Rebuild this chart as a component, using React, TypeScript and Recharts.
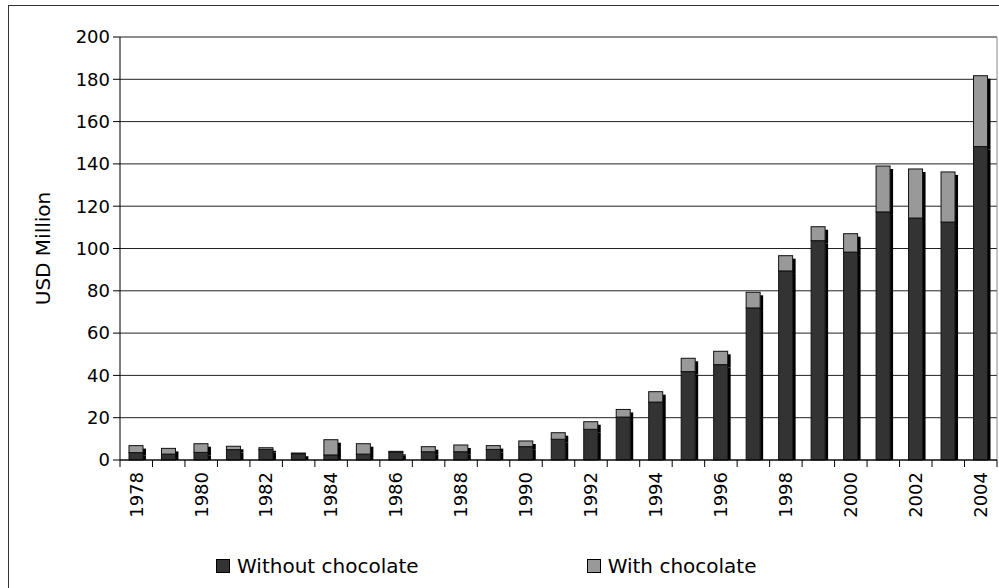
import { BarChart, Bar, XAxis, YAxis, CartesianGrid, Legend, ReferenceLine } from 'recharts';

const years = [
  '1978', '1979', '1980', '1981', '1982', '1983', '1984', '1985', '1986',
  '1987', '1988', '1989', '1990', '1991', '1992', '1993', '1994', '1995',
  '1996', '1997', '1998', '1999', '2000', '2001', '2002', '2003', '2004',
];

const withoutChocolate = [
  3.5, 2.8, 3.6, 4.9, 5.0, 3.0, 2.4, 2.8, 3.6,
  3.9, 3.9, 5.0, 6.3, 9.8, 14.5, 20.3, 27.4, 41.8,
  45.1, 71.9, 89.4, 103.7, 98.3, 117.3, 114.4, 112.5, 148.2,
];

const withChocolate = [
  3.3, 2.7, 4.1, 1.6, 0.8, 0.3, 7.2, 4.9, 0.5,
  2.4, 3.2, 1.8, 2.7, 3.1, 3.6, 3.6, 4.9, 6.3,
  6.3, 7.4, 7.2, 6.6, 8.7, 21.7, 23.2, 23.7, 33.5,
];

const yTicks = [0, 20, 40, 60, 80, 100, 120, 140, 160, 180, 200];

const data = years.map((year, i) => ({
  year,
  without: withoutChocolate[i],
  with: withChocolate[i],
}));

const FONT = 'DejaVu Sans';
const DARK = '#333333';
const LIGHT = '#999999';

// bar with a black drop shadow strip on its right side
const Segment = (props: any) => {
  const { x, y, width, height, fill, isBase } = props;
  if (!height || height <= 0) return null;
  const shadowEnd = isBase ? y + height : y + height + 3;
  return (
    <g>
      <rect x={x + width} y={y + 3} width={3} height={Math.max(0, shadowEnd - y - 3)} fill="#000" />
      <rect x={x} y={y} width={width} height={height} fill={fill} stroke="#111" strokeWidth={1} />
    </g>
  );
};

const YearTick = (props: any) => {
  const { x, y, index, payload, width, visibleTicksCount } = props;
  const half = width / visibleTicksCount / 2;
  const axisY = y - 12;
  return (
    <g>
      <line x1={x - half} x2={x - half} y1={axisY} y2={axisY + 7} stroke="#000" />
      {index === visibleTicksCount - 1 && (
        <line x1={x + half} x2={x + half} y1={axisY} y2={axisY + 7} stroke="#000" />
      )}
      {index % 2 === 0 && (
        <text
          x={x}
          y={y}
          transform={`rotate(-90, ${x}, ${y})`}
          textAnchor="end"
          dy="0.35em"
          fontFamily={FONT}
          fontSize={18}
          fill="#000"
        >
          {payload.value}
        </text>
      )}
    </g>
  );
};

const YLabel = (props: any) => {
  const { viewBox } = props;
  const cx = viewBox.x + 43;
  const cy = viewBox.y + viewBox.height / 2;
  return (
    <text
      x={cx}
      y={cy}
      transform={`rotate(-90, ${cx}, ${cy})`}
      textAnchor="middle"
      dominantBaseline="central"
      fontFamily={FONT}
      fontSize={20}
      fill="#000"
    >
      USD Million
    </text>
  );
};

const Swatch = ({ color }: { color: string }) => (
  <span
    style={{
      display: 'inline-block',
      width: 14,
      height: 14,
      background: color,
      border: '1px solid #000',
      boxSizing: 'border-box',
      marginRight: 7,
    }}
  />
);

const LegendContent = () => (
  <div
    style={{
      height: 36,
      display: 'flex',
      alignItems: 'center',
      fontFamily: FONT,
      fontSize: 20,
      color: '#000',
      whiteSpace: 'nowrap',
    }}
  >
    <span style={{ marginLeft: 216, display: 'flex', alignItems: 'center' }}>
      <Swatch color={DARK} />
      Without chocolate
    </span>
    <span style={{ marginLeft: 168, display: 'flex', alignItems: 'center' }}>
      <Swatch color={LIGHT} />
      With chocolate
    </span>
  </div>
);

export default function App() {
  return (
    <div style={{ position: 'absolute', left: 0, top: 0, width: 999, height: 588, overflow: 'hidden', background: '#fff' }}>
      <div
        style={{
          position: 'absolute',
          left: 8,
          top: 5,
          width: 1000,
          height: 600,
          border: '1px solid #333',
        }}
      />
      <div style={{ position: 'absolute', left: 0, top: 0 }}>
        <BarChart
          width={999}
          height={588}
          data={data}
          margin={{ top: 37, right: 2, left: 0, bottom: 4 }}
          barSize={14}
        >
          <CartesianGrid vertical={false} stroke="#222" />
          <XAxis
            dataKey="year"
            interval={0}
            height={88}
            tickSize={6}
            tickMargin={6}
            tickLine={false}
            axisLine={{ stroke: '#000' }}
            tick={<YearTick />}
          />
          <YAxis
            domain={[0, 200]}
            ticks={yTicks}
            width={120}
            tickSize={7}
            tickMargin={3}
            axisLine={{ stroke: '#000' }}
            tickLine={{ stroke: '#000' }}
            tick={{ fontFamily: FONT, fontSize: 18, fill: '#000' }}
            label={<YLabel />}
          />
          <ReferenceLine y={200} stroke="#888" />
          <ReferenceLine x="2004" position="end" stroke="#888" />
          <Bar
            dataKey="without"
            name="Without chocolate"
            stackId="a"
            fill={DARK}
            isAnimationActive={false}
            shape={(p: any) => <Segment {...p} isBase />}
          />
          <Bar
            dataKey="with"
            name="With chocolate"
            stackId="a"
            fill={LIGHT}
            isAnimationActive={false}
            shape={(p: any) => <Segment {...p} />}
          />
          <Legend verticalAlign="bottom" content={<LegendContent />} />
        </BarChart>
      </div>
    </div>
  );
}
